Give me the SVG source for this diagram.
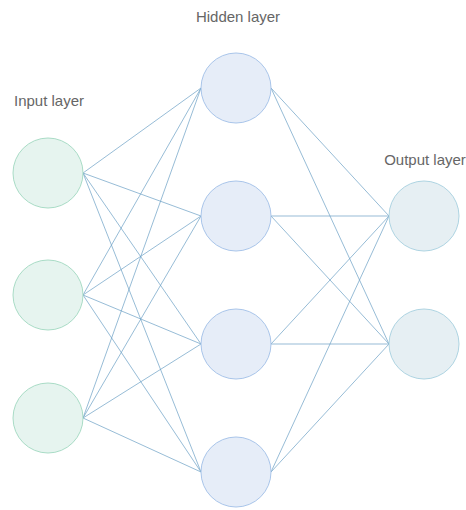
<svg xmlns="http://www.w3.org/2000/svg" width="466" height="510" viewBox="0 0 466 510">
<style>
.lbl{font-family:"Liberation Sans",Arial,sans-serif;font-size:15px;fill:#666666}
.in{fill:#e6f4ef;stroke:#a9dcc6;stroke-width:1}
.hid{fill:#e6edf8;stroke:#a9c5ea;stroke-width:1}
.out{fill:#e6eff3;stroke:#aed4e2;stroke-width:1}
#edges line{stroke:#6a9fc4;stroke-width:0.7}
</style>
<rect width="466" height="510" fill="#ffffff"/>
<text class="lbl" x="14" y="106">Input layer</text>
<text class="lbl" x="238" y="22" text-anchor="middle">Hidden layer</text>
<text class="lbl" x="425" y="165" text-anchor="middle">Output layer</text>
<g id="edges">
<line x1="83" y1="173" x2="201" y2="88"/>
<line x1="83" y1="173" x2="201" y2="216"/>
<line x1="83" y1="173" x2="201" y2="344"/>
<line x1="83" y1="173" x2="201" y2="472"/>
<line x1="83" y1="295" x2="201" y2="88"/>
<line x1="83" y1="295" x2="201" y2="216"/>
<line x1="83" y1="295" x2="201" y2="344"/>
<line x1="83" y1="295" x2="201" y2="472"/>
<line x1="83" y1="418" x2="201" y2="88"/>
<line x1="83" y1="418" x2="201" y2="216"/>
<line x1="83" y1="418" x2="201" y2="344"/>
<line x1="83" y1="418" x2="201" y2="472"/>
<line x1="271" y1="88" x2="389" y2="216"/>
<line x1="271" y1="88" x2="389" y2="344"/>
<line x1="271" y1="216" x2="389" y2="216"/>
<line x1="271" y1="216" x2="389" y2="344"/>
<line x1="271" y1="344" x2="389" y2="216"/>
<line x1="271" y1="344" x2="389" y2="344"/>
<line x1="271" y1="472" x2="389" y2="216"/>
<line x1="271" y1="472" x2="389" y2="344"/>
</g>
<g id="in1"><circle class="in" cx="48" cy="173" r="35"/></g>
<g id="in2"><circle class="in" cx="48" cy="295" r="35"/></g>
<g id="in3"><circle class="in" cx="48" cy="418" r="35"/></g>
<g id="h1"><circle class="hid" cx="236" cy="88" r="35"/></g>
<g id="h2"><circle class="hid" cx="236" cy="216" r="35"/></g>
<g id="h3"><circle class="hid" cx="236" cy="344" r="35"/></g>
<g id="h4"><circle class="hid" cx="236" cy="472" r="35"/></g>
<g id="o1"><circle class="out" cx="424" cy="216" r="35"/></g>
<g id="o2"><circle class="out" cx="424" cy="344" r="35"/></g>
</svg>
